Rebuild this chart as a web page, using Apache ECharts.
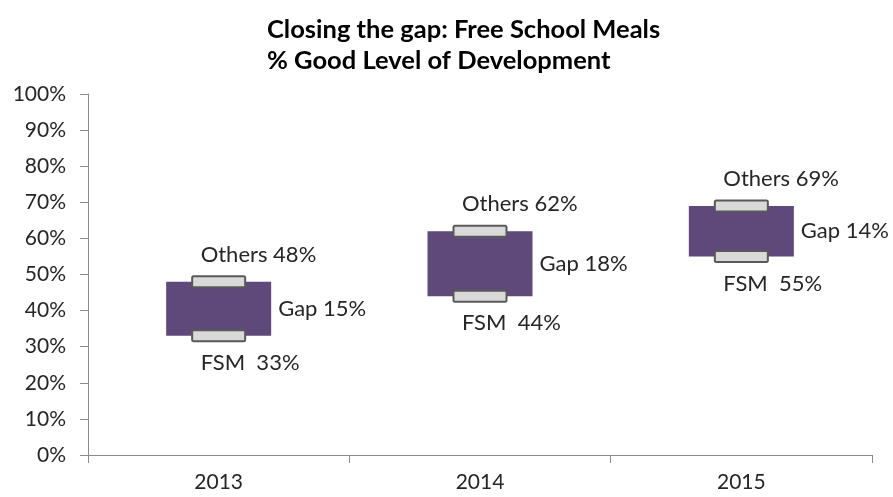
<!DOCTYPE html>
<html>
<head>
<meta charset="utf-8">
<style>
  html, body { margin: 0; padding: 0; background: #fff; }
  #chart { width: 893px; height: 497px; }
</style>
<script src="https://cdn.jsdelivr.net/npm/echarts@6/dist/echarts.min.js"></script>
</head>
<body>
<div id="chart"></div>
<script>
// Years shown on the category axis
const years = ['2013', '2014', '2015'];
// % reaching a Good Level of Development: pupils on Free School Meals
const fsm = [33, 44, 55];
// % reaching a Good Level of Development: all other pupils
const others = [48, 62, 69];
// Y-axis tick values (percent)
const yTicks = [0, 10, 20, 30, 40, 50, 60, 70, 80, 90, 100];

// Gap between the two groups, drawn as the purple band
const gap = others.map((v, i) => v - fsm[i]);

const FONT = 'Lato';
const TEXT = '#262626';
const AXIS = '#8c8c8c';

// Grey cap drawn at a group's value, with its text label above or below
function capSeries(name, values, prefix, dy) {
  return {
    name: name,
    type: 'custom',
    data: values.map((v, i) => [i, v]),
    encode: { x: 0, y: 1 },
    z: 5,
    renderItem: function (params, api) {
      const pt = api.coord([api.value(0), api.value(1)]);
      const w = 53, h = 11;
      return {
        type: 'group',
        children: [
          {
            type: 'rect',
            shape: { x: pt[0] - w / 2, y: pt[1] - h / 2, width: w, height: h, r: 1.5 },
            style: { fill: '#d9d9d9', stroke: '#595959', lineWidth: 2 }
          },
          {
            type: 'text',
            x: pt[0] - 18,
            y: pt[1] + dy,
            style: {
              text: prefix + api.value(1) + '%',
              fill: TEXT,
              font: '22px ' + FONT,
              align: 'left',
              verticalAlign: 'middle'
            }
          }
        ]
      };
    }
  };
}

const chart = echarts.init(document.getElementById('chart'), null, { renderer: 'canvas' });

chart.setOption({
  animation: false,
  backgroundColor: '#ffffff',
  title: {
    text: 'Closing the gap: Free School Meals\n% Good Level of Development',
    left: 262,
    top: 9,
    textAlign: 'left',
    textStyle: {
      fontFamily: FONT,
      fontWeight: 'bold',
      fontSize: 25.5,
      lineHeight: 31,
      color: '#000'
    }
  },
  grid: { left: 88, right: 21, top: 94, bottom: 42, containLabel: false },
  xAxis: {
    type: 'category',
    data: years,
    boundaryGap: true,
    axisLine: { show: true, lineStyle: { color: AXIS, width: 1 } },
    axisTick: { show: true, length: 8, alignWithLabel: false, lineStyle: { color: AXIS } },
    axisLabel: { fontFamily: FONT, fontSize: 21, color: TEXT, margin: 17 },
    splitLine: { show: false }
  },
  yAxis: {
    type: 'value',
    min: yTicks[0],
    max: yTicks[yTicks.length - 1],
    interval: yTicks[1] - yTicks[0],
    axisLine: { show: true, lineStyle: { color: AXIS, width: 1 } },
    axisTick: { show: true, length: 8, lineStyle: { color: AXIS } },
    axisLabel: {
      fontFamily: FONT, fontSize: 21, color: TEXT, margin: 22,
      formatter: '{value}%'
    },
    splitLine: { show: false }
  },
  series: [
    {
      name: 'base',
      type: 'bar',
      stack: 'range',
      data: fsm,
      barWidth: 105,
      silent: true,
      itemStyle: { color: 'rgba(0,0,0,0)' }
    },
    {
      name: 'Gap',
      type: 'bar',
      stack: 'range',
      data: gap,
      barWidth: 105,
      itemStyle: { color: '#5f497a' },
      label: {
        show: true,
        position: 'right',
        distance: 7,
        fontFamily: FONT,
        fontSize: 22,
        color: TEXT,
        formatter: p => 'Gap ' + p.value + '%'
      },
      z: 2
    },
    capSeries('Others', others, 'Others ', -27),
    capSeries('FSM', fsm, 'FSM  ', 27)
  ]
});
</script>
</body>
</html>
